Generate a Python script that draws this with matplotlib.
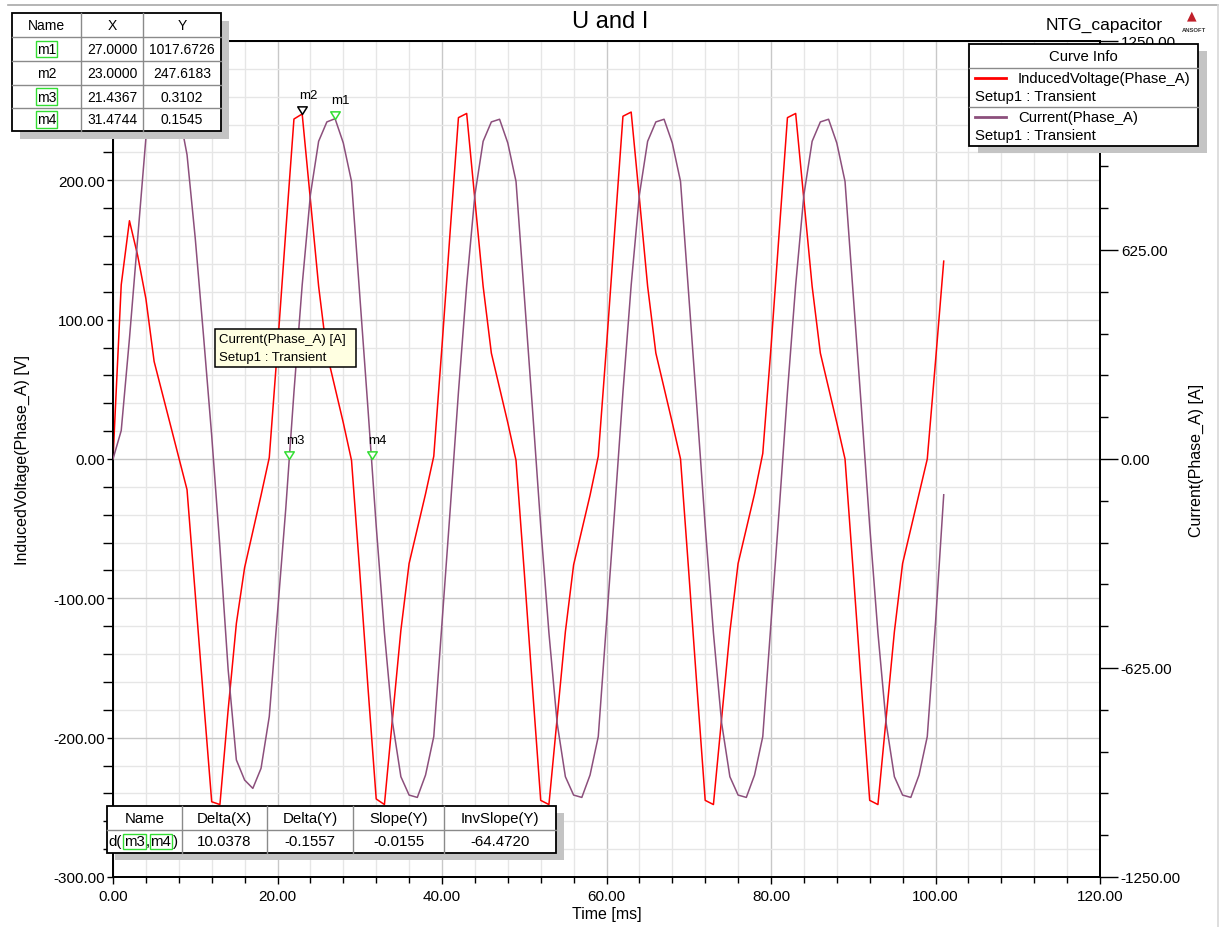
import numpy as np
import matplotlib
matplotlib.use('Agg')
import matplotlib.pyplot as plt
from matplotlib.patches import Rectangle
from matplotlib.lines import Line2D
from matplotlib.path import Path
from matplotlib.ticker import MultipleLocator, FuncFormatter, FormatStrFormatter

plt.rcParams['font.family'] = ['Liberation Sans', 'DejaVu Sans']

# ---------------- data ----------------
time_ms = list(range(0, 102))

induced_voltage = [
    0, 125, 171, 146, 115, 70, 47, 24, 1, -22,
    -97, -172, -246, -248, -180, -118, -78, -52, -26, 1,
    80, 163, 244, 247.6183, 186, 124, 76, 51, 26, -1,
    -81, -164, -244, -248, -185, -123, -75, -50, -25, 2,
    81, 164, 245, 248, 186, 124, 76, 51, 26, -1,
    -81, -164, -245, -248, -186, -124, -76, -51, -26, 2,
    81, 164, 246, 249, 187, 124, 76, 51, 26, 0,
    -81, -164, -245, -248, -186, -124, -75, -50, -25, 4,
    80, 163, 245, 248, 186, 124, 76, 51, 26, 0,
    -81, -164, -245, -248, -186, -124, -75, -50, -25, 0,
    70, 142]

current = [
    0, 85, 360, 660, 960, 1110, 1150, 1110, 1040, 910,
    660, 370, 70, -265, -630, -900, -960, -985, -925, -770,
    -460, -150, 200, 520, 790, 950, 1008, 1017.6726, 945, 830,
    490, 150, -200, -520, -790, -950, -1005, -1012, -945, -830,
    -490, -150, 200, 520, 790, 950, 1008, 1016, 945, 830,
    490, 150, -200, -520, -790, -950, -1005, -1012, -945, -830,
    -490, -150, 200, 520, 790, 950, 1008, 1016, 945, 830,
    490, 150, -200, -520, -790, -950, -1005, -1012, -945, -830,
    -490, -150, 200, 520, 790, 950, 1008, 1016, 945, 830,
    490, 150, -200, -520, -790, -950, -1005, -1012, -945, -830,
    -490, -107]

marker_names = ['m1', 'm2', 'm3', 'm4']
marker_x = [27.0000, 23.0000, 21.4367, 31.4744]
marker_y = [1017.6726, 247.6183, 0.3102, 0.1545]
marker_on_current = [True, False, True, True]

delta_headers = ['Name', 'Delta(X)', 'Delta(Y)', 'Slope(Y)', 'InvSlope(Y)']
delta_values = ['d(m3,m4)', '10.0378', '-0.1557', '-0.0155', '-64.4720']

x_ticks = [0, 20, 40, 60, 80, 100, 120]
v_ticks = [-300, -200, -100, 0, 100, 200, 300]
i_ticks = [-1250, -625, 0, 625, 1250]

RED = '#ff0000'
PURPLE = '#8c4f7c'
GREEN = '#33dd33'

# ---------------- figure ----------------
W, H = 1224, 928
fig = plt.figure(figsize=(W / 100, H / 100), dpi=100)
fig.patch.set_facecolor('white')

def fx(x):
    return x / W

def fy(y):
    return 1 - y / H

def rect(x0, y0, x1, y1, z=10, **kw):
    r = Rectangle((fx(x0), fy(y1)), (x1 - x0) / W, (y1 - y0) / H,
                  transform=fig.transFigure, zorder=z, **kw)
    fig.add_artist(r)
    return r

def line(x0, y0, x1, y1, z=11, **kw):
    l = Line2D([fx(x0), fx(x1)], [fy(y0), fy(y1)], transform=fig.transFigure,
               zorder=z, **kw)
    fig.add_artist(l)
    return l

def txt(x, y, s, ha='center', size=10, z=12, **kw):
    return fig.text(fx(x), fy(y), s, ha=ha, va='center', fontsize=size,
                    zorder=z, **kw)

AX_L, AX_R, AX_T, AX_B = 113, 1100, 42, 878
ax = fig.add_axes([fx(AX_L), fy(AX_B), (AX_R - AX_L) / W, (AX_B - AX_T) / H])
ax2 = ax.twinx()

ax.set_xlim(0, 120)
ax.set_ylim(-300, 300)
ax2.set_ylim(-1250, 1250)

ax.set_xticks(x_ticks)
ax.xaxis.set_minor_locator(MultipleLocator(4))
ax.set_yticks(v_ticks)
ax.yaxis.set_minor_locator(MultipleLocator(20))
ax2.set_yticks(i_ticks)
ax2.yaxis.set_minor_locator(MultipleLocator(125))
ax.xaxis.set_major_formatter(FormatStrFormatter('%.2f'))
# top-left label (300.00) lies hidden under the marker table in the reference
ax.yaxis.set_major_formatter(FuncFormatter(lambda v, p: '' if v >= 300 else '%.2f' % v))
ax2.yaxis.set_major_formatter(FormatStrFormatter('%.2f'))

ax.grid(which='major', color='#c8c8c8', lw=1.0)
ax.grid(which='minor', color='#e6e6e6', lw=1.0)
ax.set_axisbelow(True)

for a in (ax, ax2):
    for s in a.spines.values():
        s.set_color('black')
        s.set_linewidth(1.3)

ax.tick_params(axis='x', which='major', length=5, width=1, pad=4, labelsize=11)
ax.tick_params(axis='x', which='minor', length=4, width=1)
ax.tick_params(axis='y', which='major', length=4, width=1, pad=2, labelsize=11)
ax.tick_params(axis='y', which='minor', length=7, width=1)
ax2.tick_params(axis='y', which='major', length=13, width=1, pad=2, labelsize=11)
ax2.tick_params(axis='y', which='minor', length=6, width=1)

ax.set_xlabel('Time [ms]', fontsize=11.5, labelpad=2)
ax.set_ylabel('InducedVoltage(Phase_A) [V]', fontsize=11.5)
ax2.set_ylabel('Current(Phase_A) [A]', fontsize=11.5)
ax.yaxis.set_label_coords((30 - AX_L) / (AX_R - AX_L), 0.5)
ax2.yaxis.set_label_coords((1189 - AX_L) / (AX_R - AX_L), 0.5)

ax.plot(time_ms, induced_voltage, color=RED, lw=1.1, zorder=3)
ax2.plot(time_ms, current, color=PURPLE, lw=1.1, zorder=3)

# markers: downward triangle with apex at the point
tri = Path([(-0.5, 0.8), (0.5, 0.8), (0.0, 0.0), (-0.5, 0.8)],
           [Path.MOVETO, Path.LINETO, Path.LINETO, Path.CLOSEPOLY])
for name, mx, my, on_i in zip(marker_names, marker_x, marker_y, marker_on_current):
    a = ax2 if on_i else ax
    col = GREEN if on_i else 'black'
    a.plot([mx], [my], marker=tri, markersize=11, mfc='white', mec=col,
           mew=1.1, ls='none', zorder=6)
    a.annotate(name, (mx, my), xytext=(-2.5, 13.5), textcoords='offset points',
               ha='left', va='center', fontsize=9.5, zorder=7)

# ---------------- title / header ----------------
txt(610, 22, 'U and I', size=17)
txt(1163, 25, 'NTG_capacitor', ha='right', size=12.5)
txt(1192, 16, '\u25B2', size=9, color='#c0202a', family=['DejaVu Sans'])
txt(1194, 31, 'ANSOFT', size=4.2, weight='bold', color='#333333')

# outer frame lines
line(8, 6, 1218, 6, z=1, color='#a8a8a8', lw=1.2)
line(1218, 6, 1218, 928, z=1, color='#d8d8d8', lw=1.2)

# ---------------- marker table (top-left) ----------------
tx0, tx1, ty0, ty1 = 12, 221, 14, 132
cols = [12, 81, 143, 221]
rows = [14, 38, 62, 86, 109, 132]
rect(tx0 + 8, ty0 + 8, tx1 + 8, ty1 + 8, z=9, fc='#c4c4c4', ec='none')
rect(tx0, ty0, tx1, ty1, z=10, fc='white', ec='black', lw=1.3)
for c in cols[1:-1]:
    line(c, ty0, c, ty1, color='#8a8a8a', lw=1)
for r in rows[1:-1]:
    line(tx0, r, tx1, r, color='#8a8a8a', lw=1)
for j, h in enumerate(['Name', 'X', 'Y']):
    txt((cols[j] + cols[j + 1]) / 2, (rows[0] + rows[1]) / 2, h, size=10)
for i, (name, mx, my) in enumerate(zip(marker_names, marker_x, marker_y)):
    yc = (rows[i + 1] + rows[i + 2]) / 2
    if name == 'm2':
        txt((cols[0] + cols[1]) / 2, yc, name, size=10)
    else:
        txt((cols[0] + cols[1]) / 2, yc, name, size=10,
            bbox=dict(boxstyle='square,pad=0.08', fc='none', ec=GREEN, lw=1))
    txt((cols[1] + cols[2]) / 2, yc, '%.4f' % mx, size=10)
    txt((cols[2] + cols[3]) / 2, yc, '%.4f' % my, size=10)

# ---------------- delta table (bottom) ----------------
bx0, bx1, by0, by1 = 107, 556, 807, 854
bcols = [107, 182, 267, 353, 444, 556]
bmid = 831
rect(bx0 + 8, by0 + 7, bx1 + 8, by1 + 7, z=9, fc='#c4c4c4', ec='none')
rect(bx0, by0, bx1, by1, z=10, fc='white', ec='black', lw=1.3)
for c in bcols[1:-1]:
    line(c, by0, c, by1, color='#8a8a8a', lw=1)
line(bx0, bmid, bx1, bmid, color='#8a8a8a', lw=1)
for j, h in enumerate(delta_headers):
    txt((bcols[j] + bcols[j + 1]) / 2, (by0 + bmid) / 2, h, size=10.8)
for j, v in enumerate(delta_values):
    if j == 0:
        continue
    txt((bcols[j] + bcols[j + 1]) / 2, (bmid + by1) / 2, v, size=10.8)
yc = (bmid + by1) / 2
gb = dict(boxstyle='square,pad=0.06', fc='none', ec=GREEN, lw=1)
txt(108, yc, 'd(', ha='left', size=10.8)
txt(124, yc, 'm3', ha='left', size=10.8, bbox=gb)
txt(146, yc, ',', ha='left', size=10.8)
txt(150.5, yc, 'm4', ha='left', size=10.8, bbox=gb)
txt(172.5, yc, ')', ha='left', size=10.8)

# ---------------- legend (Curve Info) ----------------
lx0, lx1, ly0, ly1 = 969, 1198, 45, 147
rect(lx0 + 9, ly0 + 7, lx1 + 9, ly1 + 7, z=9, fc='#c4c4c4', ec='none')
rect(lx0, ly0, lx1, ly1, z=10, fc='white', ec='black', lw=1.3)
line(lx0, 69, lx1, 69, color='#8a8a8a', lw=1)
line(lx0, 108, lx1, 108, color='#8a8a8a', lw=1)
txt((lx0 + lx1) / 2, 57, 'Curve Info', size=10.7)
line(975, 79, 1006, 79, color=RED, lw=2)
txt(1018, 79, 'InducedVoltage(Phase_A)', ha='left', size=10.7)
txt(975, 97, 'Setup1 : Transient', ha='left', size=10.7)
line(975, 118, 1006, 118, color=PURPLE, lw=2)
txt(1018, 118, 'Current(Phase_A)', ha='left', size=10.7)
txt(975, 136, 'Setup1 : Transient', ha='left', size=10.7)

# ---------------- tooltip ----------------
rect(215, 330, 356, 368, z=10, fc='#ffffe1', ec='black', lw=1.1)
txt(219, 340, 'Current(Phase_A) [A]', ha='left', size=9.5)
txt(219, 358, 'Setup1 : Transient', ha='left', size=9.5)

fig.savefig('out.png', dpi=100)
